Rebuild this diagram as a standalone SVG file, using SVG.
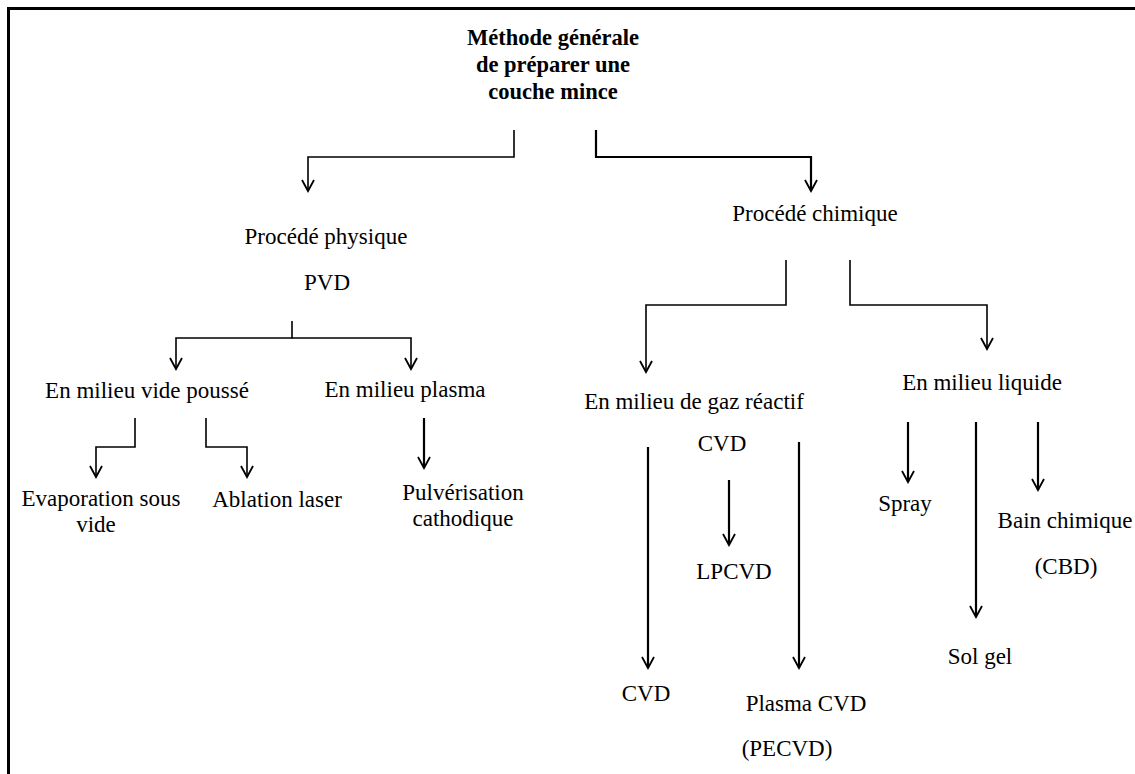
<svg xmlns="http://www.w3.org/2000/svg" width="1135" height="774" viewBox="0 0 1135 774" font-family="Liberation Serif, DejaVu Serif, serif">
<style>
text{font-family:'Liberation Serif','DejaVu Serif',serif;font-size:23px;fill:#000;text-anchor:middle}
.b{font-weight:bold;font-size:22.5px}
.c{fill:none;stroke:#000;stroke-width:1.6}
.t{stroke-width:2.2}
</style>
<defs>
<marker id="a" markerUnits="userSpaceOnUse" markerWidth="16" markerHeight="18" viewBox="-13 -9 16 18" refX="0" refY="0" orient="auto">
<path d="M-11,-6 L0,0 L-11,6" fill="none" stroke="#000" stroke-width="1.8"/>
</marker>
</defs>
<rect width="1135" height="774" fill="#fff"/>
<g id="border"><path d="M7,8.5 H1135 M8.5,7 V774" stroke="#000" stroke-width="3" fill="none"/></g>
<g id="connectors">
<path class="c" d="M514,130 V157 H308 V191" marker-end="url(#a)"/>
<path class="c t" d="M596,130 V157 H811 V191" marker-end="url(#a)"/>
<path class="c" d="M292,321 V338 H176 V369" marker-end="url(#a)"/>
<path class="c" d="M292,338 H411 V369" marker-end="url(#a)"/>
<path class="c" d="M135,418 V447 H96 V477" marker-end="url(#a)"/>
<path class="c" d="M206,418 V447 H247 V477" marker-end="url(#a)"/>
<path class="c t" d="M424,418 V468" marker-end="url(#a)"/>
<path class="c" d="M786,260 V305 H646 V372" marker-end="url(#a)"/>
<path class="c" d="M850,260 V305 H987 V349" marker-end="url(#a)"/>
<path class="c t" d="M648,447 V668" marker-end="url(#a)"/>
<path class="c t" d="M729,480 V545" marker-end="url(#a)"/>
<path class="c t" d="M799,442 V668" marker-end="url(#a)"/>
<path class="c t" d="M908,422 V482" marker-end="url(#a)"/>
<path class="c t" d="M976,422 V617" marker-end="url(#a)"/>
<path class="c t" d="M1038,422 V490" marker-end="url(#a)"/>
</g>
<g id="n-root"><text class="b" x="553" y="45">Méthode générale</text><text class="b" x="553" y="72">de préparer une</text><text class="b" x="553" y="99">couche mince</text></g>
<g id="n-physique"><text x="326" y="244">Procédé physique</text><text x="327" y="290">PVD</text></g>
<g id="n-chimique"><text x="815" y="221">Procédé chimique</text></g>
<g id="n-vide"><text x="147" y="398">En milieu vide poussé</text></g>
<g id="n-plasma"><text x="405" y="397">En milieu plasma</text></g>
<g id="n-evap"><text x="101" y="506">Evaporation sous</text><text x="96" y="532">vide</text></g>
<g id="n-ablation"><text x="277" y="507">Ablation laser</text></g>
<g id="n-pulv"><text x="463" y="500">Pulvérisation</text><text x="463" y="526">cathodique</text></g>
<g id="n-gaz"><text x="694" y="409">En milieu de gaz réactif</text><text x="722" y="451">CVD</text></g>
<g id="n-liquide"><text x="982" y="390">En milieu liquide</text></g>
<g id="n-lpcvd"><text x="734" y="579">LPCVD</text></g>
<g id="n-cvd"><text x="646" y="701">CVD</text></g>
<g id="n-pecvd"><text x="806" y="711">Plasma CVD</text><text x="787" y="756">(PECVD)</text></g>
<g id="n-spray"><text x="905" y="511">Spray</text></g>
<g id="n-solgel"><text x="980" y="664">Sol gel</text></g>
<g id="n-bain"><text x="1065" y="528">Bain chimique</text><text x="1066" y="574">(CBD)</text></g>
</svg>
